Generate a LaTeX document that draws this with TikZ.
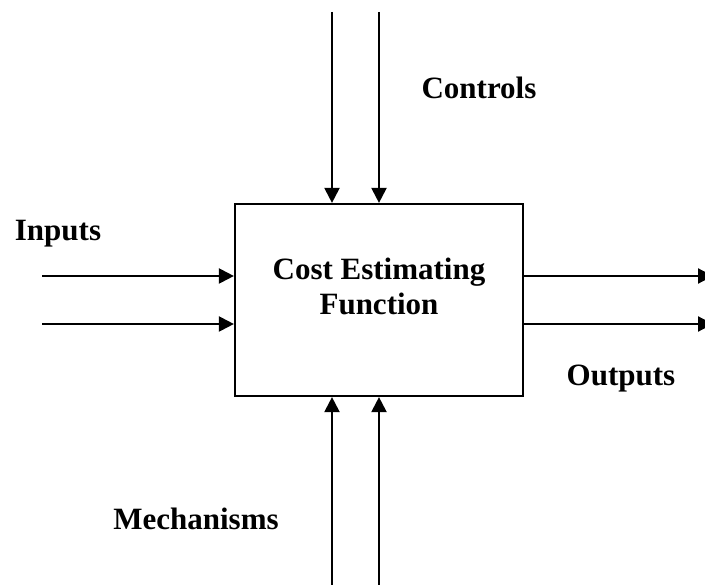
\documentclass[tikz,border=0pt]{standalone}
\usepackage{fontspec}
\setmainfont{Liberation Serif}
\usetikzlibrary{arrows.meta}
\begin{document}
\begin{tikzpicture}[x=1pt,y=-1pt,
  flow/.style={line width=2.2pt,-{Triangle[length=15pt,width=15pt]}},
  lbl/.style={font=\bfseries\fontsize{31}{35}\selectfont,inner sep=0pt},
  funcbox/.style={draw,line width=2.2pt,minimum width=288pt,minimum height=192pt,inner sep=0pt}]
\useasboundingbox (0,0) rectangle (705,585);
% central activity box
\node[funcbox] (fn) at (379,300) {};
\node[lbl,align=center] (title) at (379,286) {Cost Estimating\\Function};
% end points of the arrows
\coordinate (c1) at (332,12);
\coordinate (c2) at (379,12);
\coordinate (m1) at (332,590);
\coordinate (m2) at (379,590);
\coordinate (i1) at (42,276);
\coordinate (i2) at (42,324);
\coordinate (o1) at (713,276);
\coordinate (o2) at (713,324);
% controls
\draw[flow] (c1) -- (c1 |- fn.north);
\draw[flow] (c2) -- (c2 |- fn.north);
% mechanisms
\draw[flow] (m1) -- (m1 |- fn.south);
\draw[flow] (m2) -- (m2 |- fn.south);
% inputs
\draw[flow] (i1) -- (i1 -| fn.west);
\draw[flow] (i2) -- (i2 -| fn.west);
% outputs
\draw[flow] (o1 -| fn.east) -- (o1);
\draw[flow] (o2 -| fn.east) -- (o2);
% labels
\node[lbl] (lin) at (58,234) {Inputs};
\node[lbl] (lctl) at (479,88) {Controls};
\node[lbl] (lout) at (621,379) {Outputs};
\node[lbl] (lmech) at (196,519) {Mechanisms};
\end{tikzpicture}
\end{document}
